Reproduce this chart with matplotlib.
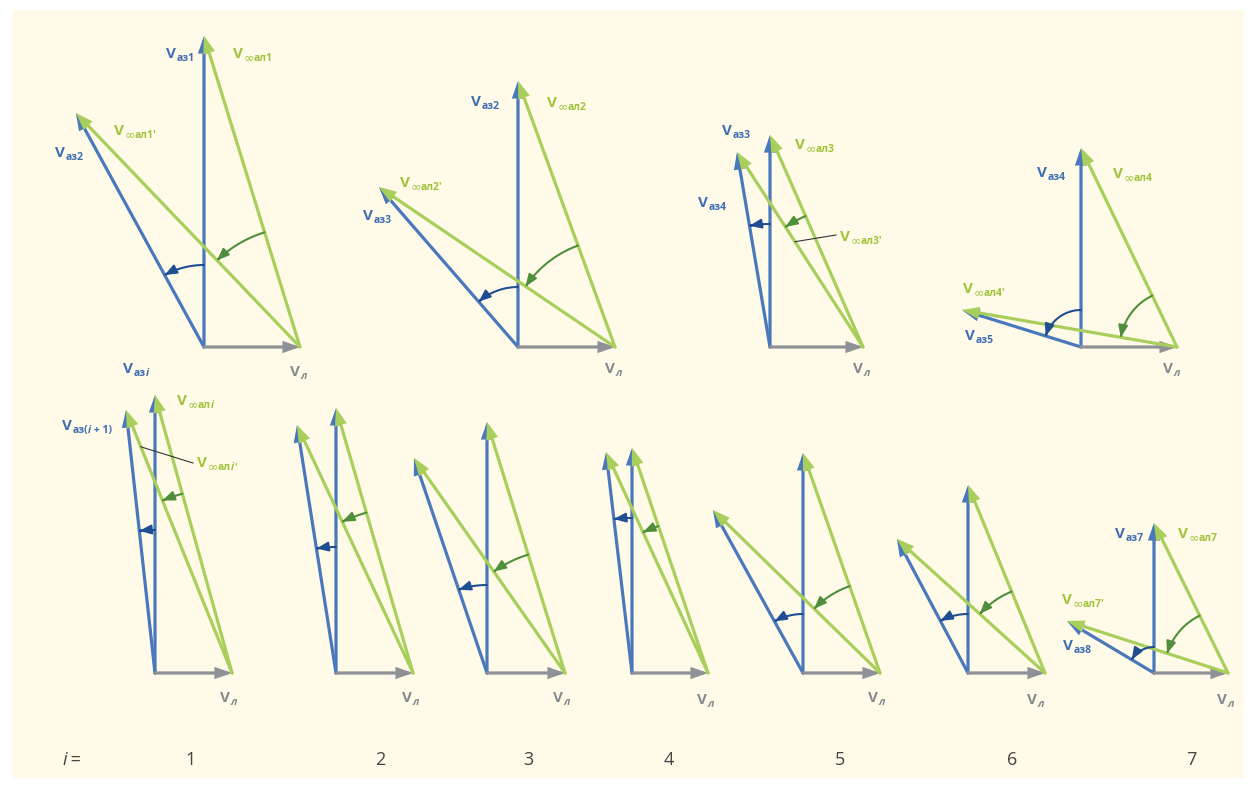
import numpy as np
import matplotlib
matplotlib.use('Agg')
import matplotlib.pyplot as plt
from matplotlib.patches import Rectangle, FancyArrowPatch
from matplotlib.path import Path

FAM = ['Open Sans', 'DejaVu Sans']
plt.rcParams['font.family'] = FAM

# colours
BLUE = '#4A78BC'
GREEN = '#A8CF5C'
GRAY = '#8E9196'
ARC_BLUE = '#1F4F92'
ARC_GREEN = '#4F8E3C'
TXT_BLUE = '#3F6DB3'
TXT_GREEN = '#A2C23C'
TXT_GRAY = '#868A90'

# layout: where each diagram's origin sits (pixels), 4 on top row, 7 on bottom
origin_x = [204, 518, 770, 1081, 155, 336, 487, 632, 803, 968, 1154]
origin_y = [347, 347, 347, 347, 673, 673, 673, 673, 673, 673, 673]

# vector data in pixel units (y up)
v_l = [96, 97, 93, 96, 77, 77, 78, 76, 77, 77, 74]            # V_л, horizontal
v_az = [311, 266, 212, 199, 278, 265, 251, 225, 220, 188, 150]  # V_аз i, vertical
v_next_x = [-128, -139, -33, -119, -29, -39, -73, -26, -90, -71, -87]  # V_аз(i+1)
v_next_y = [234, 160, 195, 37, 263, 248, 215, 221, 163, 134, 52]
arc_r_blue = [82, 60, 123, 37, 143, 126, 88, 155, 59, 59, 26]
arc_r_green = [120, 108, 143, 57, 186, 167, 124, 155, 92, 88, 64]

# bottom row iteration numbers
i_labels = ['1', '2', '3', '4', '5', '6', '7']
i_label_x = [191, 380, 528, 669, 840, 1012, 1191]

fig = plt.figure(figsize=(12.55, 7.87), dpi=100)
fig.patch.set_facecolor('white')
ax = fig.add_axes([0, 0, 1, 1])
ax.set_xlim(0, 1255)
ax.set_ylim(787, 0)
ax.axis('off')
ax.add_patch(Rectangle((12, 10), 1232, 768, facecolor='#FFFBE8', edgecolor='none', zorder=0))


def vec(p0, p1, color, z):
    ax.annotate('', xy=p1, xytext=p0,
                arrowprops=dict(arrowstyle='-|>,head_length=0.8,head_width=0.28',
                                color=color, lw=2.3, shrinkA=0, shrinkB=0,
                                mutation_scale=10, joinstyle='miter'),
                zorder=z)


def arc(center, r, a0, a1, color):
    t = np.linspace(a0, a1, 40)
    pts = np.column_stack([center[0] + r * np.cos(t), center[1] - r * np.sin(t)])
    p = FancyArrowPatch(path=Path(pts), arrowstyle='-|>,head_length=0.7,head_width=0.28',
                        mutation_scale=10, color=color, lw=1.5, zorder=5)
    ax.add_patch(p)


for k in range(len(origin_x)):
    ox, oy = origin_x[k], origin_y[k]
    o = (ox, oy)
    lend = (ox + v_l[k], oy)
    tip = (ox, oy - v_az[k])
    tip2 = (ox + v_next_x[k], oy - v_next_y[k])
    # blue vectors
    vec(o, tip, BLUE, 2)
    vec(o, tip2, BLUE, 2)
    # V_л
    vec(o, lend, GRAY, 3)
    # green vectors
    vec(lend, tip, GREEN, 4)
    vec(lend, tip2, GREEN, 4)
    # rotation arcs
    a_b0 = np.pi / 2
    a_b1 = np.arctan2(v_next_y[k], v_next_x[k])
    arc(o, arc_r_blue[k], a_b0, a_b1, ARC_BLUE)
    a_g0 = np.arctan2(v_az[k], -v_l[k])
    a_g1 = np.arctan2(v_next_y[k], v_next_x[k] - v_l[k])
    arc(lend, arc_r_green[k], a_g0, a_g1, ARC_GREEN)


def label(x, y, color, pieces, vsize=11, ssize=7.5):
    prev = ax.text(x, y, 'V', fontsize=vsize, fontweight='bold', color=color,
                   ha='left', va='baseline', zorder=6)
    for n, (s, it) in enumerate(pieces):
        kw = dict(fontsize=ssize, fontweight='bold', color=color, ha='left',
                  style='italic' if it else 'normal', zorder=6)
        if s == '∞':
            kw.update(fontsize=9, fontweight='normal', family='DejaVu Sans')
        if n == 0:
            prev = ax.annotate(s, xy=(1, 0), xycoords=prev, xytext=(0.5, 0),
                               textcoords='offset points', va='baseline', **kw)
        else:
            prev = ax.annotate(s, xy=(1, 0), xycoords=prev, va='bottom', **kw)


INF = ('∞', False)
labels = [
    (166, 58, TXT_BLUE, [('аз1', False)]),
    (233, 58, TXT_GREEN, [INF, ('ал1', False)]),
    (55, 157, TXT_BLUE, [('аз2', False)]),
    (114, 135, TXT_GREEN, [INF, ("ал1'", False)]),
    (471, 106, TXT_BLUE, [('аз2', False)]),
    (547, 107, TXT_GREEN, [INF, ('ал2', False)]),
    (400, 187, TXT_GREEN, [INF, ("ал2'", False)]),
    (363, 220, TXT_BLUE, [('аз3', False)]),
    (722, 135, TXT_BLUE, [('аз3', False)]),
    (795, 149, TXT_GREEN, [INF, ('ал3', False)]),
    (698, 207, TXT_BLUE, [('аз4', False)]),
    (840, 241, TXT_GREEN, [INF, ("ал3'", False)]),
    (1037, 177, TXT_BLUE, [('аз4', False)]),
    (1113, 178, TXT_GREEN, [INF, ('ал4', False)]),
    (963, 293, TXT_GREEN, [INF, ("ал4'", False)]),
    (965, 340, TXT_BLUE, [('аз5', False)]),
    (123, 373, TXT_BLUE, [('аз', False), ('i', True)]),
    (177, 405, TXT_GREEN, [INF, ('ал', False), ('i', True)]),
    (62, 430, TXT_BLUE, [('аз(', False), ('i', True), (' + 1)', False)]),
    (197, 467, TXT_GREEN, [INF, ('ал', False), ('i', True), ("'", False)]),
    (1115, 538, TXT_BLUE, [('аз7', False)]),
    (1178, 538, TXT_GREEN, [INF, ('ал7', False)]),
    (1062, 604, TXT_GREEN, [INF, ("ал7'", False)]),
    (1063, 650, TXT_BLUE, [('аз8', False)]),
]
for x, y, c, p in labels:
    label(x, y, c, p)

# V_л labels under each diagram
vl_label_x = [290, 605, 853, 1163, 220, 402, 553, 697, 868, 1027, 1217]
vl_label_y = [376, 373, 373, 373, 702, 702, 702, 704, 702, 704, 704]
for x, y in zip(vl_label_x, vl_label_y):
    label(x, y, TXT_GRAY, [('л', True)])

# leader lines for primed labels (diagram index, fraction along V∞ал', label point)
leaders = [(2, 0.54, (836, 235)), (4, 0.86, (193, 463))]
for k, f, end in leaders:
    lx = origin_x[k] + v_l[k]
    x0 = lx + f * (v_next_x[k] - v_l[k])
    y0 = origin_y[k] - f * v_next_y[k]
    ax.plot([x0, end[0]], [y0, end[1]], color='#333333', lw=0.8, zorder=6)

# i = 1..7
t = ax.text(62, 765, 'i', fontsize=13, style='italic', color='#444444', ha='left', va='baseline')
ax.annotate(' =', xy=(1, 0), xycoords=t, fontsize=13, color='#444444', ha='left', va='bottom')
for s, x in zip(i_labels, i_label_x):
    ax.text(x, 765, s, fontsize=13, color='#444444', ha='center', va='baseline')

fig.savefig('out.png', dpi=100, facecolor=fig.get_facecolor())
